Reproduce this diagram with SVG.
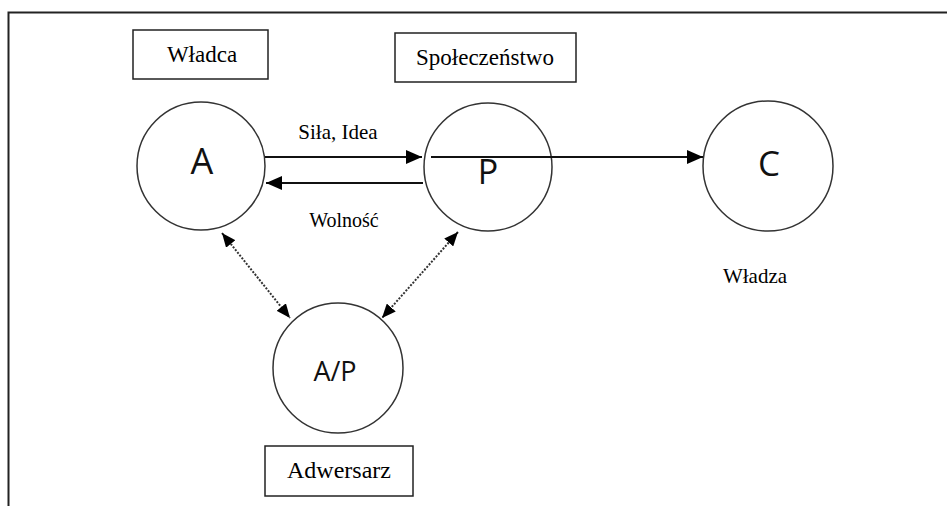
<svg xmlns="http://www.w3.org/2000/svg" width="947" height="506" viewBox="0 0 947 506">
<style>
.box{fill:#fff;stroke:#222;stroke-width:1.5}
.circ{fill:#fff;stroke:#333;stroke-width:1.5}
.lbl{fill:#000;text-anchor:middle}
.let{fill:#111;text-anchor:middle}
.ln{stroke:#111;stroke-width:2;fill:none}
.dot{stroke:#333;stroke-width:2;stroke-dasharray:2,1.5;fill:none}
</style>
<defs>
<marker id="ah" markerUnits="userSpaceOnUse" markerWidth="16" markerHeight="14" refX="16" refY="7" orient="auto-start-reverse">
<path d="M0,0 L16,7 L0,14 z" fill="#000"/>
</marker>
<marker id="ahs" markerUnits="userSpaceOnUse" markerWidth="14" markerHeight="12" refX="14" refY="6" orient="auto-start-reverse">
<path d="M0,0 L14,6 L0,12 z" fill="#000"/>
</marker>
</defs>
<rect width="947" height="506" fill="#fff"/>
<g id="frame">
<path d="M8.5,506 V12.5 H947" stroke="#222" stroke-width="2" fill="none"/>
</g>
<g id="label-wladca">
<rect class="box" x="133" y="30" width="135" height="49"/>
<text class="lbl" x="202" y="62" font-size="23" font-family="Liberation Serif, serif">Władca</text>
</g>
<g id="label-spoleczenstwo">
<rect class="box" x="395" y="33" width="181" height="49"/>
<text class="lbl" x="485" y="65" font-size="23" font-family="Liberation Serif, serif">Społeczeństwo</text>
</g>
<g id="label-adwersarz">
<rect class="box" x="265" y="446" width="148" height="50"/>
<text class="lbl" x="339" y="478" font-size="24" font-family="Liberation Serif, serif">Adwersarz</text>
</g>
<g id="node-A">
<circle class="circ" cx="201" cy="166" r="64"/>
<text class="let" x="202" y="174" font-size="36" font-family="Open Sans, Liberation Sans, sans-serif">A</text>
</g>
<g id="node-P">
<circle class="circ" cx="488" cy="167" r="64"/>
<text class="let" x="488" y="184" font-size="34" font-family="Open Sans, Liberation Sans, sans-serif">P</text>
</g>
<g id="node-C">
<circle class="circ" cx="768" cy="166" r="65"/>
<text class="let" x="769" y="176" font-size="35" font-family="Open Sans, Liberation Sans, sans-serif">C</text>
</g>
<g id="node-AP">
<circle class="circ" cx="338" cy="368" r="65"/>
<text class="let" x="335" y="381" font-size="27" font-family="Open Sans, Liberation Sans, sans-serif">A/P</text>
</g>
<g id="connectors">
<line class="ln" x1="265" y1="157" x2="422" y2="157" marker-end="url(#ah)"/>
<line class="ln" x1="431" y1="157" x2="703" y2="157" marker-end="url(#ah)"/>
<line class="ln" x1="423" y1="183" x2="266" y2="183" marker-end="url(#ah)"/>
<line class="dot" x1="222" y1="233" x2="290" y2="318" marker-start="url(#ahs)" marker-end="url(#ahs)"/>
<line class="dot" x1="458" y1="232" x2="382" y2="318" marker-start="url(#ahs)" marker-end="url(#ahs)"/>
<text class="lbl" x="338" y="139" font-size="21" font-family="Liberation Serif, serif">Siła, Idea</text>
<text class="lbl" x="344" y="227" font-size="20" font-family="Liberation Serif, serif">Wolność</text>
<text class="lbl" x="755" y="283" font-size="21" font-family="Liberation Serif, serif">Władza</text>
</g>
</svg>
